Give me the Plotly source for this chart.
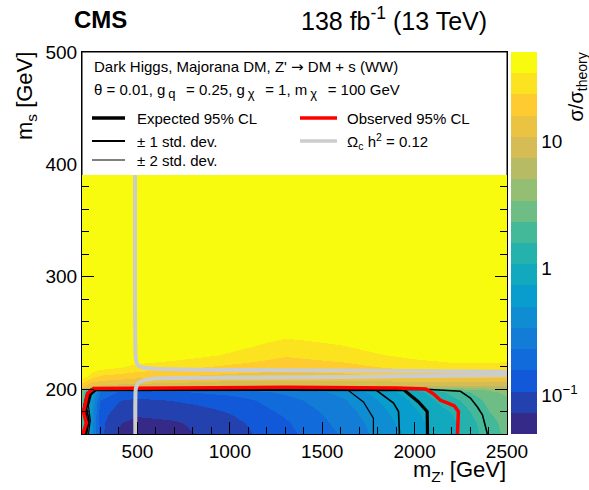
import numpy as np
import plotly.graph_objects as go

# ---------------- data ----------------
mzp = [200, 225, 250, 300, 400, 500, 700, 1000, 1300, 1600, 1800, 2000, 2200, 2400, 2500]
ms_grid = [160, 170, 180, 190, 197, 199.5, 201.5, 206, 212, 220, 230, 242, 255, 265, 280, 500]
ratio = [
    [2.0, 1.1, 0.45, 0.12, 0.07, 0.06, 0.065, 0.09, 0.14, 0.24, 0.38, 0.62, 0.95, 1.9, 2.6],
    [2.2, 1.1, 0.45, 0.12, 0.075, 0.065, 0.07, 0.095, 0.15, 0.26, 0.40, 0.65, 1.0, 2.0, 2.7],
    [2.4, 1.2, 0.5, 0.13, 0.09, 0.08, 0.085, 0.11, 0.17, 0.28, 0.44, 0.70, 1.1, 2.3, 2.9],
    [2.6, 1.3, 0.55, 0.16, 0.11, 0.10, 0.11, 0.13, 0.20, 0.32, 0.50, 0.80, 1.4, 2.6, 3.2],
    [3.0, 1.5, 0.7, 0.22, 0.15, 0.14, 0.15, 0.18, 0.25, 0.38, 0.58, 0.92, 1.8, 3.1, 3.7],
    [3.5, 1.8, 0.8, 0.26, 0.18, 0.17, 0.18, 0.21, 0.29, 0.43, 0.65, 1.05, 2.2, 3.6, 4.2],
    [15, 12, 10, 9, 8, 8, 8, 8, 8, 8, 7, 6.5, 6, 6, 6],
    [25, 20, 16, 14, 13, 12, 11, 10, 10, 10, 10, 10, 10, 10, 10],
    [40, 35, 28, 22, 20, 18, 16, 14, 13, 14, 15, 17, 18, 18, 18],
    [60, 55, 45, 40, 35, 30, 26, 21, 18, 20, 23, 27, 30, 30, 30],
    [60, 60, 60, 55, 52, 48, 42, 32, 24, 28, 33, 38, 42, 42, 40],
    [60, 60, 60, 60, 60, 60, 55, 42, 31, 36, 42, 47, 52, 55, 55],
    [60, 60, 60, 60, 60, 60, 60, 55, 45, 48, 55, 60, 60, 60, 60],
    [60, 60, 60, 60, 60, 60, 60, 60, 52, 55, 60, 60, 60, 60, 60],
    [60] * 15,
    [60] * 15,
]

obs_x = [205, 224, 208, 230, 262, 600, 1300, 1900, 2060, 2100, 2140, 2180, 2215, 2237, 2235, 2232]
obs_y = [160, 170, 179, 196, 200.5, 201, 201.5, 201, 200, 196, 190, 187.5, 185, 180, 170, 160]

exp_x = [215, 228, 215, 232, 255, 600, 1300, 1940, 2021, 2068, 2070]
exp_y = [160, 170, 180, 192, 199.5, 199.7, 199.7, 199.5, 188.5, 180, 160]

p1_x = [225, 238, 225, 242, 265, 600, 1300, 1788, 1886, 1913, 1918]
p1_y = [160, 172, 183, 194, 199.5, 199.7, 199.7, 199.5, 187.5, 180, 160]

m1_x = [210, 220, 207, 222, 248, 600, 1300, 2086, 2248, 2302, 2340, 2367, 2394]
m1_y = [160, 170, 182, 194, 199.8, 199.8, 199.8, 199.6, 198, 192, 184, 177, 160]

p2_x = [235, 245, 235, 250, 280, 600, 1300, 1637, 1723, 1777, 1777]
p2_y = [160, 172, 185, 195, 199.3, 199.5, 199.5, 199.3, 188.5, 174, 160]

relic_up_x = [489, 489, 492, 500, 520, 600, 1000, 1600, 2500]
relic_up_y = [500, 235, 226, 222, 219.5, 218, 217, 216.5, 215.5]
relic_lo_x = [489, 489, 492, 505, 540, 600, 1000, 1600, 2500]
relic_lo_y = [160, 192, 201, 205.4, 208, 209.5, 210.2, 210.7, 212.5]

cb_major = [0.1, 1, 10]
cb_major_text = ["10<sup>\u22121</sup>", "1", "10"]
cb_minor = [0.06, 0.07, 0.08, 0.09, 0.2, 0.3, 0.4, 0.5, 0.6, 0.7, 0.8, 0.9,
            2, 3, 4, 5, 6, 7, 8, 9, 20, 30, 40]

# ---------------- style ----------------
FONT = "Liberation Sans, Arial, Helvetica, sans-serif"
W, H = 589, 490
L, R, T, B = 82, 507, 52, 434
ZMIN, ZMAX = 0.05, 50

def px(x):
    return (x - L) / (R - L)

def py(y):
    return (B - y) / (B - T)

def cb_py(v):
    return B - (np.log10(v) - np.log10(ZMIN)) / (np.log10(ZMAX) - np.log10(ZMIN)) * (B - T)

# ROOT kBird palette, discretised into bands
st = [0, .125, .25, .375, .5, .625, .75, .875, 1]
rr = [0.2082, 0.0592, 0.0780, 0.0232, 0.1802, 0.5301, 0.8186, 0.9956, 0.9764]
gg = [0.1664, 0.3599, 0.5041, 0.6419, 0.7178, 0.7492, 0.7328, 0.7862, 0.9832]
bb = [0.5293, 0.8684, 0.8385, 0.7914, 0.6425, 0.4662, 0.3499, 0.1968, 0.0539]

def bird(t):
    return "rgb(%d,%d,%d)" % tuple(int(round(255 * np.interp(t, st, c))) for c in (rr, gg, bb))

N = 18
cscale = []
for i in range(N):
    c = bird(i / (N - 1))
    cscale.append([i / N, c])
    cscale.append([(i + 1) / N, c])

z = np.log10(np.array(ratio, dtype=float))

fig = go.Figure()
fig.add_trace(go.Heatmap(
    x=mzp, y=ms_grid, z=z, zsmooth="best",
    zmin=np.log10(ZMIN), zmax=np.log10(ZMAX), colorscale=cscale,
    colorbar=dict(
        x=(511 - L) / (R - L), xanchor="left", xpad=0, ypad=0,
        y=0.5, yanchor="middle", len=1, lenmode="fraction",
        thickness=26, thicknessmode="pixels", outlinewidth=0,
        tickmode="array",
        tickvals=[np.log10(v) for v in cb_major],
        ticktext=cb_major_text,
        ticks="", tickfont=dict(family=FONT, size=19, color="black"),
        tickprefix=" ",
    ),
    hoverinfo="skip",
))

def line(xs, ys, color, width, shape="linear"):
    fig.add_trace(go.Scatter(x=xs, y=ys, mode="lines",
                             line=dict(color=color, width=width, shape=shape),
                             showlegend=False, hoverinfo="skip"))

line(p2_x, p2_y, "black", 1.2)
line(p1_x, p1_y, "black", 1.6)
line(m1_x, m1_y, "black", 1.6)
line(exp_x, exp_y, "black", 3.2)
line(obs_x, obs_y, "#ff0000", 3.5)
line(relic_up_x, relic_up_y, "#cccccc", 4, "spline")
line(relic_lo_x, relic_lo_y, "#cccccc", 4, "spline")

axfont = dict(family=FONT, size=19, color="black")
fig.update_xaxes(range=[200, 2500], showline=True, linecolor="black", linewidth=1,
                 mirror="allticks", ticks="inside", ticklen=12, tickcolor="black",
                 tickvals=[500, 1000, 1500, 2000, 2500], tickfont=axfont,
                 minor=dict(ticks="inside", ticklen=7, tickcolor="black", dtick=100, tick0=0),
                 showgrid=False, zeroline=False, automargin=False)
fig.update_yaxes(range=[160, 500], showline=True, linecolor="black", linewidth=1,
                 mirror="allticks", ticks="inside", ticklen=12, tickcolor="black",
                 tickvals=[200, 300, 400, 500], tickfont=axfont,
                 minor=dict(ticks="inside", ticklen=7, tickcolor="black", dtick=20, tick0=0),
                 showgrid=False, zeroline=False, automargin=False)

shapes = []
# legend box
shapes.append(dict(type="rect", xref="paper", yref="paper", x0=px(L), x1=px(R),
                   y0=py(175), y1=py(T), fillcolor="white", line=dict(width=0), layer="above"))
for (x0, y0, x1, y1) in [(L, T, L, 175), (L, T, R, T), (R, T, R, 175)]:
    shapes.append(dict(type="line", xref="paper", yref="paper", x0=px(x0), x1=px(x1),
                       y0=py(y0), y1=py(y1), line=dict(color="black", width=1), layer="above"))
# legend samples
for (x0, x1, yy, col, w) in [(92, 125, 118, "black", 3.5), (92, 125, 141, "black", 2),
                             (92, 125, 160, "black", 1), (300, 337, 118, "#ff0000", 3.5),
                             (300, 337, 141, "#cccccc", 3.5)]:
    shapes.append(dict(type="line", xref="paper", yref="paper", x0=px(x0), x1=px(x1),
                       y0=py(yy), y1=py(yy), line=dict(color=col, width=w), layer="above"))
# colour bar ticks (major long, minor short) on the right edge of the bar
cb_right = 537
for v, ln in [(v, 14) for v in cb_major] + [(v, 8) for v in cb_minor]:
    yy = cb_py(v)
    shapes.append(dict(type="line", xref="paper", yref="paper", x0=px(cb_right - ln),
                       x1=px(cb_right), y0=py(yy), y1=py(yy),
                       line=dict(color="black", width=1), layer="above"))

ann = []
def text(x, y, s, size=15, xanchor="left", yanchor="middle", angle=0, **kw):
    ann.append(dict(x=px(x), y=py(y), xref="paper", yref="paper", text=s, showarrow=False,
                    xanchor=xanchor, yanchor=yanchor, textangle=angle,
                    font=dict(family=FONT, size=size, color="black"), **kw))

ARROW = "<span style='font-family:DejaVu Sans'>\u2192</span>"
def sub(s):
    return "\u2009<sub><span style='font-size:13px'>" + s + "</span></sub>\u2002\u2009"

text(92, 67, "Dark Higgs, Majorana DM, Z' " + ARROW + " DM + s (WW)")
text(92, 91, "\u03b8 = 0.01, g" + sub("q") + "= 0.25, g" + sub("\u03c7") + "= 1, m"
     + sub("\u03c7") + "= 100 GeV")
text(135, 118, "Expected 95% CL")
text(135, 141, "\u00b1 1 std. dev.")
text(135, 160, "\u00b1 2 std. dev.")
text(345, 118, "Observed 95% CL")
text(345, 141, "\u03a9<sub>c</sub> h<sup>2</sup> = 0.12")
text(72, 19, "<b>CMS</b>", size=24)
text(489, 19, "138 fb<sup>-1</sup> (13 TeV)", size=25, xanchor="right")
text(508, 471, "m<sub>Z'</sub> [GeV]", size=22, xanchor="right")
text(26, 50, "m<sub>s</sub> [GeV]", size=22, xanchor="center", yanchor="top", angle=-90)
text(577, 51, "\u03c3/\u03c3<sub>theory</sub>", size=20, xanchor="center", yanchor="top", angle=-90)

fig.update_layout(width=W, height=H,
                  margin=dict(l=L, r=W - R, t=T, b=H - B, autoexpand=False),
                  paper_bgcolor="white", plot_bgcolor="white", showlegend=False,
                  shapes=shapes, annotations=ann, font=dict(family=FONT, color="black"))

fig.write_html("out.html")
